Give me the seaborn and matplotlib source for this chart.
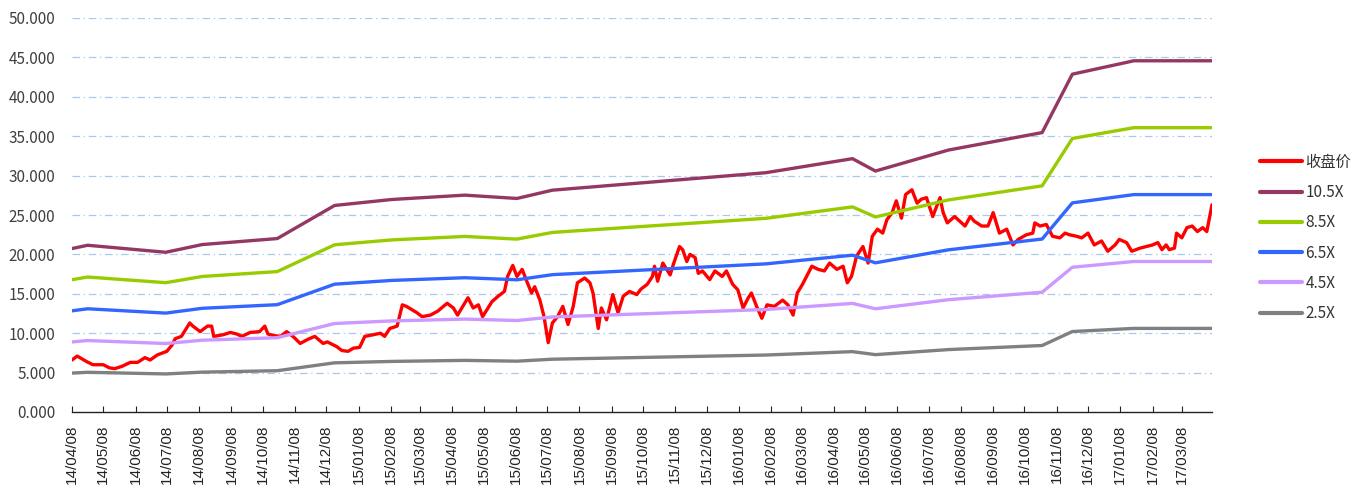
import matplotlib
matplotlib.use("Agg")
import matplotlib.pyplot as plt
import seaborn as sns
import pandas as pd

# ---------------- data ----------------
price_dates = [
    "2014-04-08", "2014-04-13", "2014-04-22", "2014-04-28", "2014-05-08", "2014-05-14", "2014-05-19",
    "2014-05-26", "2014-06-03", "2014-06-10", "2014-06-17", "2014-06-22", "2014-06-29", "2014-07-08",
    "2014-07-13", "2014-07-16", "2014-07-22", "2014-07-30", "2014-08-02", "2014-08-09", "2014-08-16",
    "2014-08-20", "2014-08-22", "2014-08-31", "2014-09-07", "2014-09-13", "2014-09-18", "2014-09-26",
    "2014-10-05", "2014-10-10", "2014-10-13", "2014-10-18", "2014-10-25", "2014-10-31", "2014-11-06",
    "2014-11-13", "2014-11-20", "2014-11-27", "2014-12-05", "2014-12-09", "2014-12-18", "2014-12-23",
    "2014-12-29", "2015-01-03", "2015-01-09", "2015-01-14", "2015-01-22", "2015-01-29", "2015-02-02",
    "2015-02-07", "2015-02-14", "2015-02-19", "2015-02-23", "2015-03-05", "2015-03-10", "2015-03-18",
    "2015-03-25", "2015-04-03", "2015-04-09", "2015-04-13", "2015-04-23", "2015-04-28", "2015-05-03",
    "2015-05-07", "2015-05-16", "2015-05-22", "2015-05-28", "2015-05-31", "2015-06-05", "2015-06-09",
    "2015-06-14", "2015-06-19", "2015-06-23", "2015-06-26", "2015-07-01", "2015-07-05", "2015-07-09",
    "2015-07-13", "2015-07-18", "2015-07-23", "2015-07-28", "2015-08-02", "2015-08-06", "2015-08-13",
    "2015-08-18", "2015-08-21", "2015-08-26", "2015-08-29", "2015-09-03", "2015-09-09", "2015-09-14",
    "2015-09-19", "2015-09-25", "2015-10-02", "2015-10-06", "2015-10-12", "2015-10-17", "2015-10-19",
    "2015-10-22", "2015-10-27", "2015-11-03", "2015-11-06", "2015-11-12", "2015-11-15", "2015-11-19",
    "2015-11-22", "2015-11-27", "2015-11-30", "2015-12-04", "2015-12-11", "2015-12-16", "2015-12-23",
    "2015-12-27", "2016-01-02", "2016-01-07", "2016-01-12", "2016-01-17", "2016-01-20", "2016-01-25",
    "2016-01-30", "2016-02-04", "2016-02-11", "2016-02-19", "2016-02-24", "2016-02-29", "2016-03-04",
    "2016-03-09", "2016-03-18", "2016-03-24", "2016-03-30", "2016-04-04", "2016-04-11", "2016-04-17",
    "2016-04-21", "2016-04-25", "2016-04-30", "2016-05-06", "2016-05-11", "2016-05-15", "2016-05-20",
    "2016-05-25", "2016-05-29", "2016-06-03", "2016-06-07", "2016-06-12", "2016-06-16", "2016-06-22",
    "2016-06-27", "2016-07-01", "2016-07-06", "2016-07-12", "2016-07-19", "2016-07-22", "2016-07-26",
    "2016-08-02", "2016-08-07", "2016-08-12", "2016-08-17", "2016-08-21", "2016-08-28", "2016-09-03",
    "2016-09-08", "2016-09-14", "2016-09-21", "2016-09-27", "2016-10-02", "2016-10-10", "2016-10-16",
    "2016-10-18", "2016-10-23", "2016-10-29", "2016-11-04", "2016-11-11", "2016-11-16", "2016-11-20",
    "2016-11-27", "2016-12-02", "2016-12-08", "2016-12-14", "2016-12-21", "2016-12-27", "2017-01-03",
    "2017-01-07", "2017-01-14", "2017-01-19", "2017-01-27", "2017-02-08", "2017-02-13", "2017-02-17",
    "2017-02-21", "2017-02-24", "2017-03-01", "2017-03-03", "2017-03-08", "2017-03-13", "2017-03-18",
    "2017-03-23", "2017-03-28", "2017-04-01", "2017-04-06",
]
close_price = [
    6.6, 7.1, 6.4, 6.0, 6.0, 5.6, 5.5,
    5.8, 6.3, 6.3, 6.9, 6.6, 7.25, 7.7,
    8.5, 9.3, 9.6, 11.3, 10.9, 10.2, 10.9,
    10.9, 9.6, 9.8, 10.1, 9.9, 9.6, 10.1,
    10.2, 10.9, 9.9, 9.7, 9.6, 10.2, 9.6,
    8.7, 9.2, 9.6, 8.7, 8.9, 8.3, 7.8,
    7.7, 8.1, 8.2, 9.6, 9.8, 10.0, 9.6,
    10.6, 10.9, 13.6, 13.4, 12.6, 12.1, 12.3,
    12.8, 13.8, 13.2, 12.3, 14.5, 13.2, 13.6,
    12.1, 14.0, 14.7, 15.3, 17.2, 18.6, 17.2,
    18.1, 16.4, 15.1, 15.9, 14.2, 12.1, 8.8,
    11.3, 12.1, 13.4, 11.1, 13.4, 16.4, 17.0,
    16.4, 15.1, 10.6, 13.2, 11.7, 14.9, 12.6,
    14.7, 15.3, 14.9, 15.6, 16.2, 17.2, 18.5,
    16.6, 18.9, 17.4, 18.7, 21.0, 20.6, 19.1,
    20.0, 19.6, 17.6, 17.9, 16.8, 17.9, 17.2,
    17.9, 16.2, 15.5, 13.2, 14.5, 15.1, 13.4,
    11.9, 13.6, 13.4, 14.2, 13.6, 12.3, 15.1,
    16.2, 18.5, 18.1, 17.9, 18.9, 18.1, 18.5,
    16.4, 17.2, 19.8, 21.0, 18.9, 22.3, 23.2,
    22.7, 24.4, 25.3, 26.8, 24.6, 27.6, 28.2,
    26.5, 27.0, 27.2, 24.8, 27.2, 25.3, 24.0,
    24.8, 24.2, 23.6, 24.8, 24.2, 23.6, 23.6,
    25.3, 22.7, 23.2, 21.2, 21.9, 22.5, 22.7,
    24.0, 23.6, 23.8, 22.3, 22.1, 22.7, 22.5,
    22.3, 22.1, 22.7, 21.2, 21.7, 20.4, 21.2,
    21.9, 21.5, 20.4, 20.8, 21.2, 21.5, 20.6,
    21.2, 20.6, 20.8, 22.7, 22.1, 23.4, 23.6,
    22.9, 23.4, 22.9, 26.3,
]

band_dates = [
    "2014-04-08", "2014-04-23", "2014-07-07", "2014-08-11", "2014-10-22", "2014-12-16",
    "2015-02-09", "2015-04-20", "2015-06-09", "2015-07-13", "2016-02-03", "2016-04-26",
    "2016-05-18", "2016-07-27", "2016-10-25", "2016-11-23", "2017-01-21", "2017-04-06",
]
band_10_5x = [20.74, 21.16, 20.27, 21.25, 22.01, 26.21, 26.97, 27.52, 27.10, 28.15, 30.37, 32.15,
              30.58, 33.24, 35.46, 42.87, 44.57, 44.57]
band_8_5x = [16.79, 17.13, 16.41, 17.20, 17.82, 21.22, 21.84, 22.28, 21.94, 22.79, 24.58, 26.03,
             24.75, 26.91, 28.70, 34.71, 36.08, 36.08]
band_6_5x = [12.84, 13.10, 12.55, 13.16, 13.62, 16.22, 16.70, 17.04, 16.78, 17.43, 18.80, 19.90,
             18.93, 20.58, 21.95, 26.54, 27.59, 27.59]
band_4_5x = [8.89, 9.07, 8.69, 9.11, 9.43, 11.23, 11.56, 11.79, 11.61, 12.06, 13.01, 13.78,
             13.10, 14.25, 15.20, 18.37, 19.10, 19.10]
band_2_5x = [4.94, 5.04, 4.83, 5.06, 5.24, 6.24, 6.42, 6.55, 6.45, 6.70, 7.23, 7.66,
             7.28, 7.92, 8.44, 10.21, 10.61, 10.61]

tick_labels = [
    "14/04/08", "14/05/08", "14/06/08", "14/07/08", "14/08/08", "14/09/08", "14/10/08",
    "14/11/08", "14/12/08", "15/01/08", "15/02/08", "15/03/08", "15/04/08", "15/05/08",
    "15/06/08", "15/07/08", "15/08/08", "15/09/08", "15/10/08", "15/11/08", "15/12/08",
    "16/01/08", "16/02/08", "16/03/08", "16/04/08", "16/05/08", "16/06/08", "16/07/08",
    "16/08/08", "16/09/08", "16/10/08", "16/11/08", "16/12/08", "17/01/08", "17/02/08",
    "17/03/08",
]

series_names = ["收盘价", "10.5X", "8.5X", "6.5X", "4.5X", "2.5X"]
series_colors = ["#FF0000", "#953763", "#99CC00", "#3366FF", "#CC99FF", "#808080"]

# ---------------- build frames ----------------
frames = [pd.DataFrame({"date": pd.to_datetime(price_dates), "value": close_price,
                        "series": series_names[0]})]
for name, vals in zip(series_names[1:], [band_10_5x, band_8_5x, band_6_5x, band_4_5x, band_2_5x]):
    frames.append(pd.DataFrame({"date": pd.to_datetime(band_dates), "value": vals, "series": name}))
df = pd.concat(frames, ignore_index=True)

sns.set_theme(style="white")
plt.rcParams["font.family"] = ["Noto Sans CJK SC", "DejaVu Sans"]

fig = plt.figure(figsize=(13.69, 4.91), dpi=100)
ax = fig.add_axes([72 / 1369, 79 / 491, 1140 / 1369, 394 / 491])

sns.lineplot(data=df, x="date", y="value", hue="series", hue_order=series_names,
             palette=dict(zip(series_names, series_colors)), linewidth=2.4,
             ax=ax, sort=True, estimator=None)

# axes styling
ax.set_ylim(0, 50)
ax.set_yticks(range(0, 51, 5))
ax.set_yticklabels([f"{v:.3f}" for v in range(0, 51, 5)], fontsize=11, color="#404040")
ax.set_xlim(pd.Timestamp("2014-04-08"), pd.Timestamp("2017-04-06"))
ax.set_xticks(pd.to_datetime(tick_labels, format="%y/%m/%d"))
ax.set_xticklabels(tick_labels, rotation=90, fontsize=11, color="#222222",
                   family=["Liberation Sans", "DejaVu Sans"])
ax.set_xlabel("")
ax.set_ylabel("")

for s in ["top", "right", "left"]:
    ax.spines[s].set_visible(False)
ax.spines["bottom"].set_color("#222222")
ax.spines["bottom"].set_linewidth(1.0)
ax.tick_params(axis="x", direction="in", length=4, width=0.8, color="#222222", bottom=True, pad=9)
ax.tick_params(axis="y", length=0, pad=12)

ax.grid(False)
for v in range(5, 51, 5):
    ax.axhline(v, color="#A9C8EA", linewidth=0.9, linestyle=(0, (6, 3, 1, 3)), zorder=0)

leg = ax.legend(loc="upper left", bbox_to_anchor=(1252 / 1369, 1 - 146 / 491),
                bbox_transform=fig.transFigure, frameon=False, fontsize=11,
                handlelength=2.8, handletextpad=0.2, labelspacing=0.87, borderpad=0)
for line in leg.get_lines():
    line.set_linewidth(3.0)
for txt in leg.get_texts():
    txt.set_color("#333333")

fig.savefig("out.png", dpi=100, facecolor="white")
